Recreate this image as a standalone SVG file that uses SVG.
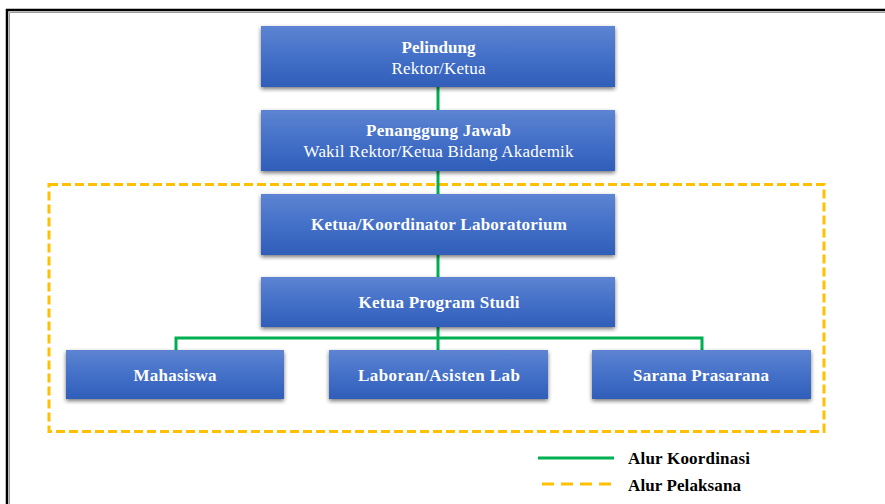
<svg xmlns="http://www.w3.org/2000/svg" width="885" height="504" viewBox="0 0 885 504">
<defs>
<linearGradient id="g" x1="0" y1="0" x2="0" y2="1">
<stop offset="0" stop-color="#5d84d2"/>
<stop offset="0.5" stop-color="#4470c8"/>
<stop offset="1" stop-color="#2f5eb8"/>
</linearGradient>
<filter id="sh" x="-10%" y="-20%" width="120%" height="150%">
<feGaussianBlur in="SourceAlpha" stdDeviation="2"/>
<feOffset dx="0" dy="2" result="b"/>
<feComponentTransfer><feFuncA type="linear" slope="0.55"/></feComponentTransfer>
<feMerge><feMergeNode/><feMergeNode in="SourceGraphic"/></feMerge>
</filter>
</defs>
<style>
.box{fill:url(#g);filter:url(#sh)}
.t{font-family:"Liberation Serif","Times New Roman",serif;font-size:17px;fill:#fff;text-anchor:middle}
.b{font-weight:bold}
.co{stroke:#00b050;stroke-width:3;fill:none}
.da{stroke:#ffc000;stroke-width:3;fill:none;stroke-dasharray:9 4}
.lg{font-family:"Liberation Serif","Times New Roman",serif;font-size:17px;font-weight:bold;fill:#000}
</style>
<rect width="885" height="504" fill="#fff"/>
<path d="M7 504 V10 H885" stroke="#000" stroke-width="2.5" fill="none"/>
<path d="M9.5 504 V12.5 H885" stroke="#999" stroke-width="1" fill="none"/>
<rect class="da" x="49" y="184.5" width="775" height="247"/>
<g id="connectors">
<line class="co" x1="438" y1="87" x2="438" y2="110"/>
<line class="co" x1="438" y1="171" x2="438" y2="194"/>
<line class="co" x1="438" y1="255" x2="438" y2="277"/>
<line class="co" x1="438" y1="327" x2="438" y2="350"/>
<path class="co" d="M176 350 V338 H702 V350"/>
</g>
<g id="pelindung">
<rect class="box" x="261" y="26" width="354" height="61"/>
<text class="t b" x="438.5" y="53" textLength="74">Pelindung</text>
<text class="t" x="438.5" y="74" textLength="94">Rektor/Ketua</text>
</g>
<g id="penanggung">
<rect class="box" x="261" y="110" width="354" height="61"/>
<text class="t b" x="438.5" y="136" textLength="145">Penanggung Jawab</text>
<text class="t" x="438.5" y="157" textLength="270">Wakil Rektor/Ketua Bidang Akademik</text>
</g>
<g id="koordinator">
<rect class="box" x="261" y="194" width="354" height="61"/>
<text class="t b" x="439" y="230" textLength="256">Ketua/Koordinator Laboratorium</text>
</g>
<g id="kaprodi">
<rect class="box" x="261" y="277" width="354" height="50"/>
<text class="t b" x="439" y="308" textLength="161">Ketua Program Studi</text>
</g>
<g id="mahasiswa">
<rect class="box" x="66" y="350" width="218" height="49"/>
<text class="t b" x="175" y="381" textLength="83">Mahasiswa</text>
</g>
<g id="laboran">
<rect class="box" x="329" y="350" width="219" height="49"/>
<text class="t b" x="439" y="381" textLength="162">Laboran/Asisten Lab</text>
</g>
<g id="sarana">
<rect class="box" x="592" y="350" width="219" height="49"/>
<text class="t b" x="701" y="381" textLength="136">Sarana Prasarana</text>
</g>
<g id="legend">
<line class="co" x1="538" y1="458" x2="614" y2="458"/>
<line x1="542" y1="484" x2="614" y2="484" stroke="#ffc000" stroke-width="3" stroke-dasharray="12 7"/>
<text class="lg" x="628" y="464" textLength="122">Alur Koordinasi</text>
<text class="lg" x="628" y="491" textLength="113">Alur Pelaksana</text>
</g>
</svg>
